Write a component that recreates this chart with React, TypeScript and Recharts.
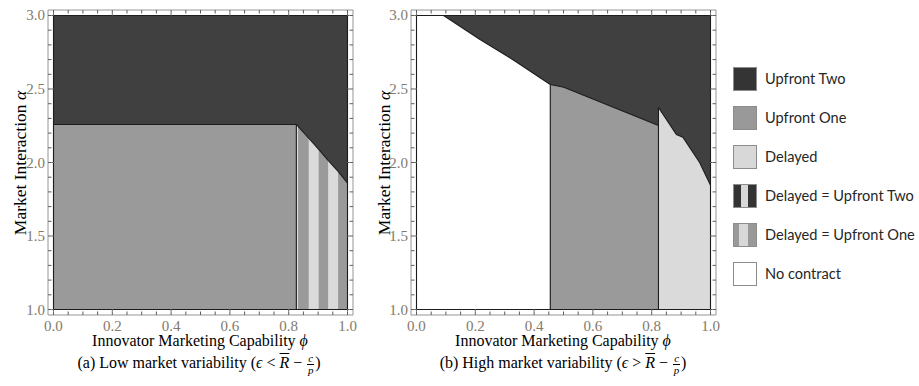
import React from 'react'
import { ComposedChart, Area, XAxis, YAxis, ReferenceLine } from 'recharts'

// frame ticks: every tick gets a mark, only the listed ones get a label
const PHI_TICKS = [0, 0.05, 0.1, 0.15, 0.2, 0.25, 0.3, 0.35, 0.4, 0.45, 0.5, 0.55, 0.6, 0.65, 0.7, 0.75, 0.8, 0.85, 0.9, 0.95, 1]
const PHI_LABELS = [0, 0.2, 0.4, 0.6, 0.8, 1]
const ALPHA_TICKS = [1, 1.1, 1.2, 1.3, 1.4, 1.5, 1.6, 1.7, 1.8, 1.9, 2, 2.1, 2.2, 2.3, 2.4, 2.5, 2.6, 2.7, 2.8, 2.9, 3]
const ALPHA_LABELS = [1, 1.5, 2, 2.5, 3]

const PHI_DOMAIN = [-0.0187, 1.0187]
const ALPHA_DOMAIN = [0.9626, 3.0374]
const ALPHA_MIN = 1

// (a) low variability: top edge of each region, regions all start at alpha = 1
const lowUpfrontTwo = { phi: [0, 1], top: [3, 3] }
const lowUpfrontOne = {
  phi: [0, 0.826, 0.832, 0.868, 0.902, 0.934, 0.968, 1],
  top: [2.259, 2.259, 2.245, 2.165, 2.09, 2.015, 1.94, 1.86],
}
// light stripes of the "Delayed = Upfront One" band
const lowStripe1 = { phi: [0.826, 0.832], top: [2.259, 2.245] }
const lowStripe2 = { phi: [0.868, 0.902], top: [2.165, 2.09] }
const lowStripe3 = { phi: [0.934, 0.968], top: [2.015, 1.94] }
const lowDividers = [{ phi: 0.826, top: 2.259 }]

// (b) high variability
const highUpfrontTwo = { phi: [0, 1], top: [3, 3] }
const highNoContract = { phi: [0, 0.092, 0.216, 0.336, 0.455], top: [3, 3, 2.837, 2.689, 2.531] }
const highUpfrontOne = { phi: [0.455, 0.501, 0.823], top: [2.531, 2.512, 2.252] }
const highDelayed = { phi: [0.823, 0.884, 0.906, 0.963, 1], top: [2.374, 2.19, 2.172, 2.0, 1.846] }
const highDividers = [
  { phi: 0.455, top: 2.531 },
  { phi: 0.823, top: 2.374 },
]

const LEGEND_LABELS = ['Upfront Two', 'Upfront One', 'Delayed', 'Delayed = Upfront Two', 'Delayed = Upfront One', 'No contract']

const DARK = '#404040'
const MID = '#9a9a9a'
const LIGHT = '#dadada'
const EDGE = '#1c1c1c'
const FRAME = '#969696'
const TICK_LINE = '#5e5e5e'
const TICK_TEXT = '#83796c'
const SERIF = 'Liberation Serif, Times New Roman, serif'
const MINOR = 3.5 // inward tick length drawn by the axis itself
const MAJOR_EXTRA = 2.5 // extra length added on labelled ticks

type Region = { phi: number[]; top: number[] }
type Layer = { key: string; fill: string; stroke: string }

function buildRows(regions: Record<string, Region>) {
  const byPhi = new Map<number, any>()
  Object.entries(regions).forEach(([key, r]) => {
    r.phi.forEach((p, i) => {
      const row = byPhi.get(p) ?? { phi: p }
      row[key] = [ALPHA_MIN, r.top[i]]
      byPhi.set(p, row)
    })
  })
  return [...byPhi.values()].sort((a, b) => a.phi - b.phi)
}

const isIn = (list: number[], v: number) => list.some((m) => Math.abs(m - v) < 1e-9)

// tick x/y arrive at the inner end of the axis tick line (tickSize is negative)
const PhiTick = (props: any) => {
  const { x, y, payload, side } = props
  if (!isIn(PHI_LABELS, payload.value)) return <g />
  const dir = side === 'top' ? 1 : -1
  return (
    <g>
      <line x1={x} y1={y} x2={x} y2={y + dir * MAJOR_EXTRA} stroke={TICK_LINE} />
      {side !== 'top' && (
        <text x={x} y={y + MINOR + 15.5} textAnchor="middle" fill={TICK_TEXT} fontFamily={SERIF} fontSize={15}>
          {payload.value.toFixed(1)}
        </text>
      )}
    </g>
  )
}

const AlphaTick = (props: any) => {
  const { x, y, payload, side } = props
  if (!isIn(ALPHA_LABELS, payload.value)) return <g />
  const dir = side === 'right' ? -1 : 1
  return (
    <g>
      <line x1={x} y1={y} x2={x + dir * MAJOR_EXTRA} y2={y} stroke={TICK_LINE} />
      {side !== 'right' && (
        <text x={x - MINOR - 3} y={y + 5} textAnchor="end" fill={TICK_TEXT} fontFamily={SERIF} fontSize={15}>
          {payload.value.toFixed(1)}
        </text>
      )}
    </g>
  )
}

function Panel({ regions, layers, dividers, left, width, margin }: {
  regions: Record<string, Region>
  layers: Layer[]
  dividers: { phi: number; top: number }[]
  left: number
  width: number
  margin: { top: number; right: number; bottom: number; left: number }
}) {
  const rows = buildRows(regions)
  const axisCommon = {
    type: 'number' as const,
    allowDataOverflow: true,
    interval: 0,
    tickSize: -MINOR,
    tickMargin: 0,
    stroke: FRAME,
    tickLine: { stroke: TICK_LINE },
  }
  return (
    <div style={{ position: 'absolute', left, top: 0 }}>
      <ComposedChart width={width} height={386} data={rows} margin={margin}>
        {layers.map((l, i) => (
          <Area
            key={i}
            type="linear"
            dataKey={l.key}
            fill={l.fill}
            fillOpacity={1}
            stroke={l.stroke}
            strokeWidth={1.1}
            connectNulls
            dot={false}
            activeDot={false}
            isAnimationActive={false}
          />
        ))}
        {[PHI_LABELS[0], PHI_LABELS[PHI_LABELS.length - 1]].map((p) => (
          <ReferenceLine key={`edge${p}`} segment={[{ x: p, y: ALPHA_MIN }, { x: p, y: 3 }]} stroke={EDGE} strokeWidth={1.1} />
        ))}
        {dividers.map((d) => (
          <ReferenceLine key={`div${d.phi}`} segment={[{ x: d.phi, y: ALPHA_MIN }, { x: d.phi, y: d.top }]} stroke={EDGE} strokeWidth={1.1} />
        ))}
        <XAxis {...axisCommon} dataKey="phi" domain={PHI_DOMAIN} ticks={PHI_TICKS} height={1} tick={<PhiTick side="bottom" />} />
        <XAxis {...axisCommon} xAxisId="top" dataKey="phi" orientation="top" domain={PHI_DOMAIN} ticks={PHI_TICKS} height={1} tick={<PhiTick side="top" />} />
        <YAxis {...axisCommon} domain={ALPHA_DOMAIN} ticks={ALPHA_TICKS} width={1} tick={<AlphaTick side="left" />} />
        <YAxis {...axisCommon} yAxisId="right" orientation="right" domain={ALPHA_DOMAIN} ticks={ALPHA_TICKS} width={1} tick={<AlphaTick side="right" />} />
      </ComposedChart>
    </div>
  )
}

const Frac = ({ n, d }: { n: string; d: string }) => (
  <span style={{ display: 'inline-flex', flexDirection: 'column', alignItems: 'center', verticalAlign: 'middle', fontSize: 11, lineHeight: '10px', margin: '0 1px', fontStyle: 'italic' }}>
    <span style={{ borderBottom: '0.8px solid #000', padding: '0 1px 1px' }}>{n}</span>
    <span>{d}</span>
  </span>
)

const Caption = ({ tag, label, op, center }: { tag: string; label: string; op: string; center: number }) => (
  <div style={{ position: 'absolute', left: center - 170, width: 340, top: 351, textAlign: 'center', fontFamily: SERIF, fontSize: 16, lineHeight: '24px', color: '#000', whiteSpace: 'nowrap' }}>
    ({tag}) {label} (<i>ϵ</i> {op} <i style={{ textDecoration: 'overline' }}>R</i> − <Frac n="c" d="p" />)
  </div>
)

const AxisTitles = ({ center, yTitleX }: { center: number; yTitleX: number }) => (
  <>
    <div style={{ position: 'absolute', left: center - 150, width: 300, top: 331, textAlign: 'center', fontFamily: SERIF, fontSize: 16, lineHeight: '20px', color: '#000' }}>
      Innovator Marketing Capability <i>ϕ</i>
    </div>
    <div style={{ position: 'absolute', left: yTitleX - 100, width: 200, top: 153, textAlign: 'center', fontFamily: SERIF, fontSize: 17.5, lineHeight: '20px', color: '#000', transform: 'rotate(-90deg)' }}>
      Market Interaction <i>α</i>
    </div>
  </>
)

const SWATCHES: Record<string, string> = {
  'Upfront Two': '#343434',
  'Upfront One': '#999999',
  Delayed: '#d8d8d8',
  'Delayed = Upfront Two': 'linear-gradient(to right, #343434 0 32%, #d8d8d8 32% 64%, #343434 64% 100%)',
  'Delayed = Upfront One': 'linear-gradient(to right, #999999 0 24%, #d8d8d8 24% 62%, #999999 62% 100%)',
  'No contract': '#ffffff',
}

export default function App() {
  return (
    <div style={{ position: 'absolute', left: 0, top: 0, width: 919, height: 386, background: '#fff', overflow: 'hidden' }}>
      <Panel
        left={0}
        width={370}
        margin={{ top: 9, right: 16, bottom: 70, left: 47 }}
        regions={{ upfrontTwo: lowUpfrontTwo, upfrontOne: lowUpfrontOne, stripe1: lowStripe1, stripe2: lowStripe2, stripe3: lowStripe3 }}
        layers={[
          { key: 'upfrontTwo', fill: DARK, stroke: EDGE },
          { key: 'upfrontOne', fill: MID, stroke: 'none' },
          { key: 'stripe1', fill: LIGHT, stroke: 'none' },
          { key: 'stripe2', fill: LIGHT, stroke: 'none' },
          { key: 'stripe3', fill: LIGHT, stroke: 'none' },
          { key: 'upfrontOne', fill: 'none', stroke: EDGE },
        ]}
        dividers={lowDividers}
      />
      <Panel
        left={370}
        width={360}
        margin={{ top: 9, right: 13, bottom: 70, left: 40 }}
        regions={{ upfrontTwo: highUpfrontTwo, noContract: highNoContract, upfrontOne: highUpfrontOne, delayed: highDelayed }}
        layers={[
          { key: 'upfrontTwo', fill: DARK, stroke: EDGE },
          { key: 'noContract', fill: '#ffffff', stroke: EDGE },
          { key: 'upfrontOne', fill: MID, stroke: EDGE },
          { key: 'delayed', fill: LIGHT, stroke: EDGE },
        ]}
        dividers={highDividers}
      />
      <AxisTitles center={200} yTitleX={20} />
      <AxisTitles center={563} yTitleX={384} />
      <Caption tag="a" label="Low market variability" op="<" center={199} />
      <Caption tag="b" label="High market variability" op=">" center={563} />
      {LEGEND_LABELS.map((label, i) => (
        <div key={label} style={{ position: 'absolute', left: 733, top: 66 + i * 39, height: 25, display: 'flex', alignItems: 'center' }}>
          <div style={{ width: 24, height: 24, background: SWATCHES[label], border: '1px solid #8c8c8c', boxSizing: 'border-box' }} />
          <span style={{ marginLeft: 8, fontFamily: 'Lato, "Open Sans", sans-serif', fontSize: 14.6, color: '#262626', whiteSpace: 'nowrap' }}>{label}</span>
        </div>
      ))}
    </div>
  )
}
